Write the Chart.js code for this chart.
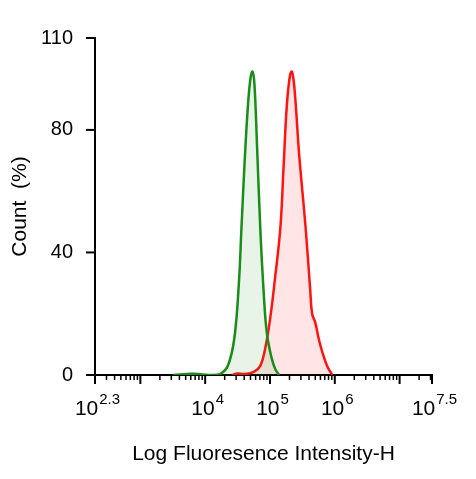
<!DOCTYPE html>
<html>
<head>
<meta charset="utf-8">
<script src="https://cdn.jsdelivr.net/npm/chart.js@4"></script>
<style>
  body { margin: 0; background: #fff; }
  #wrap { width: 476px; height: 479px; }
</style>
</head>
<body>
<div id="wrap"><canvas id="c" width="476" height="479"></canvas></div>
<script>
// x values are log10(fluorescence)
const greenX = [3.5, 3.8, 3.95, 4.1, 4.23, 4.35, 4.45, 4.52, 4.56, 4.61, 4.66, 4.70, 4.73, 4.76, 4.80, 4.85, 4.90, 4.95, 5.02, 5.08, 5.14];
const greenY = [0, 0.4, 0.2, 0, 0.3, 3, 12, 30, 48, 70, 88, 97, 99, 95, 75, 48, 28, 14, 6, 2, 0];
const redX = [4.41, 4.5, 4.6, 4.75, 4.85, 4.92, 5.0, 5.08, 5.16, 5.21, 5.26, 5.31, 5.34, 5.38, 5.45, 5.55, 5.62, 5.65, 5.70, 5.75, 5.80, 5.88, 5.96];
const redY = [0, 0.5, 0.3, 1, 3, 8, 18, 32, 48, 68, 88, 98, 99, 93, 72, 48, 28, 20, 17, 12, 8, 3, 0];
const xTicks = [2.3, 3, 4, 5, 6, 7, 7.5];
const xLabels = { 2.3: '2.3', 4: '4', 5: '5', 6: '6', 7.5: '7.5' };
const yTicks = [0, 40, 80, 110];

const FONT = '"Liberation Sans", Arial, sans-serif';
const pts = (xs, ys) => xs.map((x, i) => ({ x: x, y: ys[i] }));

// axis marks and "10^n" labels drawn by hand
const axisPlugin = {
  id: 'axisMarks',
  afterDraw(chart) {
    const ctx = chart.ctx;
    const xs = chart.scales.x, ys = chart.scales.y;
    const bottom = chart.chartArea.bottom, left = chart.chartArea.left;
    ctx.save();
    ctx.strokeStyle = '#000';
    ctx.lineWidth = 1.5;
    // minor x ticks
    for (let d = 2; d <= 7; d++) {
      for (let k = 2; k <= 9; k++) {
        const v = d + Math.log10(k);
        if (v < 2.3 || v > 7.5) continue;
        const px = xs.getPixelForValue(v);
        ctx.beginPath(); ctx.moveTo(px, bottom); ctx.lineTo(px, bottom + 5); ctx.stroke();
      }
    }
    ctx.lineWidth = 2;
    xTicks.forEach(v => {
      const px = xs.getPixelForValue(v);
      ctx.beginPath(); ctx.moveTo(px, bottom); ctx.lineTo(px, bottom + 9); ctx.stroke();
    });
    yTicks.forEach(v => {
      const py = ys.getPixelForValue(v);
      ctx.beginPath(); ctx.moveTo(left, py); ctx.lineTo(left - 9, py); ctx.stroke();
    });
    // x labels
    ctx.fillStyle = '#000';
    ctx.textBaseline = 'alphabetic';
    Object.keys(xLabels).forEach(k => {
      const px = xs.getPixelForValue(parseFloat(k));
      ctx.font = '21px ' + FONT;
      const w1 = ctx.measureText('10').width;
      ctx.font = '15px ' + FONT;
      const w2 = ctx.measureText(xLabels[k]).width;
      const x0 = px - (w1 + w2) / 2 + 2;
      ctx.font = '21px ' + FONT;
      ctx.textAlign = 'left';
      ctx.fillText('10', x0, bottom + 40);
      ctx.font = '15px ' + FONT;
      ctx.fillText(xLabels[k], x0 + w1 + 1, bottom + 29);
    });
    ctx.restore();
  }
};

new Chart(document.getElementById('c'), {
  type: 'line',
  data: {
    datasets: [
      { data: pts(greenX, greenY), borderColor: '#1a8c1a', backgroundColor: 'rgba(0,128,0,0.09)', fill: 'origin', borderWidth: 2.5, pointRadius: 0, tension: 0.4 },
      { data: pts(redX, redY), borderColor: '#ff1414', backgroundColor: 'rgba(255,0,0,0.1)', fill: 'origin', borderWidth: 2.5, pointRadius: 0, tension: 0.4 }
    ]
  },
  options: {
    responsive: false,
    animation: false,
    layout: { padding: { top: 38, right: 44, left: 0, bottom: 0 } },
    plugins: { legend: { display: false }, tooltip: { enabled: false } },
    scales: {
      x: {
        type: 'linear', min: 2.3, max: 7.5,
        afterBuildTicks: s => { s.ticks = xTicks.map(v => ({ value: v })); },
        afterFit: s => { s.height = 104; },
        grid: { display: false },
        border: { color: '#000', width: 2 },
        ticks: { callback: () => '' },
        title: { display: true, text: 'Log Fluoresence Intensity-H', color: '#000', font: { size: 21, family: FONT }, padding: { top: 0, bottom: 12 } }
      },
      y: {
        min: 0, max: 110,
        afterBuildTicks: s => { s.ticks = yTicks.map(v => ({ value: v })); },
        afterFit: s => { s.width = 95; },
        grid: { display: false },
        border: { color: '#000', width: 2 },
        ticks: { color: '#000', padding: 14, font: { size: 20, family: FONT } },
        title: { display: true, text: 'Count  (%)', color: '#000', font: { size: 21, family: FONT }, padding: { top: 8, bottom: 0 } }
      }
    }
  },
  plugins: [axisPlugin]
});
</script>
</body>
</html>
